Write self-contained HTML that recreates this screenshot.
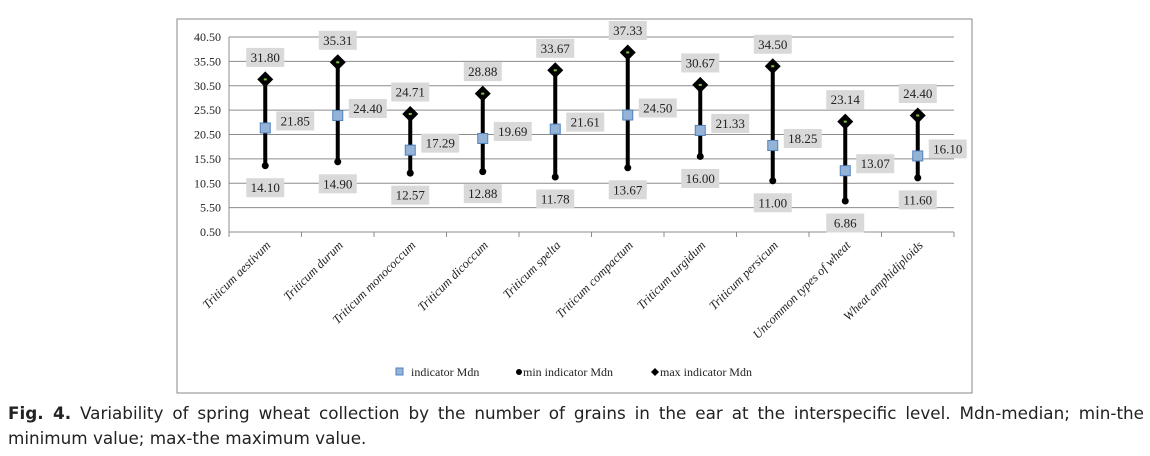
<!DOCTYPE html>
<html><head><meta charset="utf-8"><style>
body{margin:0;background:#fff;width:1150px;height:456px;overflow:hidden;position:relative;font-family:"DejaVu Sans",sans-serif}
svg{position:absolute;left:0;top:0}
.cap{position:absolute;left:8px;top:401px;width:1136px;font-family:"DejaVu Sans",sans-serif;font-size:16.8px;line-height:25px;color:#222;text-align:justify;text-align-last:left}
</style></head><body>
<svg id="chart" width="1150" height="400"></svg>
<div class="cap"><b>Fig. 4.</b> Variability of spring wheat collection by the number of grains in the ear at the interspecific level. Mdn-median; min-the minimum value; max-the maximum value.</div>
<script>
const categories=["Triticum aestivum","Triticum durum","Triticum monococcum","Triticum dicoccum","Triticum spelta","Triticum compactum","Triticum turgidum","Triticum persicum","Uncommon types of wheat","Wheat amphidiploids"];
const medianVals=[21.85,24.40,17.29,19.69,21.61,24.50,21.33,18.25,13.07,16.10];
const minVals=[14.10,14.90,12.57,12.88,11.78,13.67,16.00,11.00,6.86,11.60];
const maxVals=[31.80,35.31,24.71,28.88,33.67,37.33,30.67,34.50,23.14,24.40];
const yTicks=[0.5,5.5,10.5,15.5,20.5,25.5,30.5,35.5,40.5];
const NS="http://www.w3.org/2000/svg";
const svg=document.getElementById('chart');
const L=229,R=954,T=37,B=232,yMin=0.5,yMax=40.5;
const y=v=>B-(v-yMin)/(yMax-yMin)*(B-T);
const bw=(R-L)/categories.length;
const x=i=>L+bw*(i+0.5);
function el(t,a,p){const e=document.createElementNS(NS,t);for(const k in a)e.setAttribute(k,a[k]);(p||svg).appendChild(e);return e;}
const frame=el('rect',{x:177,y:19,width:795,height:374,fill:'none',stroke:'#888','stroke-width':1});


yTicks.forEach(t=>{
  const g=el('line',{x1:L,x2:R,y1:y(t),y2:y(t),stroke:'#8c8c8c','stroke-width':1});
  
  
  const tx=el('text',{x:L-8,y:y(t)+4,'text-anchor':'end','font-family':'Liberation Serif, serif','font-size':12,fill:'#222'});
  tx.textContent=t.toFixed(2);
  
  
});
const ax=el('line',{x1:L,x2:L,y1:T,y2:B,stroke:'#8c8c8c'});


for(let i=0;i<=categories.length;i++){
  const tk=el('line',{x1:L+bw*i,x2:L+bw*i,y1:B,y2:B+5,stroke:'#8c8c8c'});
  
  
}
function box(cx,cy,v,name){
  const w=38,h=19;
  const r=el('rect',{x:cx-w/2,y:cy-h/2,width:w,height:h,fill:'#d9d9d9'});
  
  
  const t=el('text',{x:cx,y:cy+4.5,'text-anchor':'middle','font-family':'Liberation Serif, serif','font-size':13,fill:'#222'});
  t.textContent=v.toFixed(2);
  
  
}
categories.forEach((c,i)=>{
  const cx=x(i);
  const ln=el('line',{x1:cx,x2:cx,y1:y(minVals[i]),y2:y(maxVals[i]),stroke:'#000','stroke-width':4});
  
  
  const mn=el('circle',{cx:cx,cy:y(minVals[i]),r:3.5,fill:'#000'});
  
  
  const my=y(maxVals[i]);
  const d=el('path',{d:`M${cx} ${my-8}L${cx+8} ${my}L${cx} ${my+8}L${cx-8} ${my}Z`,fill:'#000'});
  
  
  const dm=el('rect',{x:cx-1.5,y:my-1,width:3,height:2,fill:'#8bc34a'});
  
  
  const md=y(medianVals[i]);
  const sq=el('rect',{x:cx-5,y:md-5,width:10,height:10,fill:'#95b3d7',stroke:'#4f81bd','stroke-width':1});
  
  
  box(cx,my-22,maxVals[i],'max-label');
  box(cx+30,md-7,medianVals[i],'median-label');
  box(cx,y(minVals[i])+22,minVals[i],'min-label');
  const ct=el('text',{x:0,y:0,'text-anchor':'end','font-family':'Liberation Serif, serif','font-size':12.5,'font-style':'italic',fill:'#222',transform:`translate(${cx+6},${B+14}) rotate(-45)`});
  ct.textContent=c;
  
  
});
const lg=el('g',{});


const l1=el('rect',{x:396,y:368,width:7,height:7,fill:'#95b3d7',stroke:'#4f81bd'},lg);


const lc=el('circle',{cx:519,cy:372,r:3,fill:'#000'},lg);


const ld=el('path',{d:'M655 368L659 372L655 376L651 372Z',fill:'#000'},lg);


[["indicator Mdn",411],["min  indicator  Mdn",523],["max indicator  Mdn",660]].forEach(([t,lx])=>{
  const tx=el('text',{x:lx,y:376,'font-family':'Liberation Serif, serif','font-size':12,fill:'#222'},lg);
  tx.textContent=t;
  
  
});
</script>
</body></html>
